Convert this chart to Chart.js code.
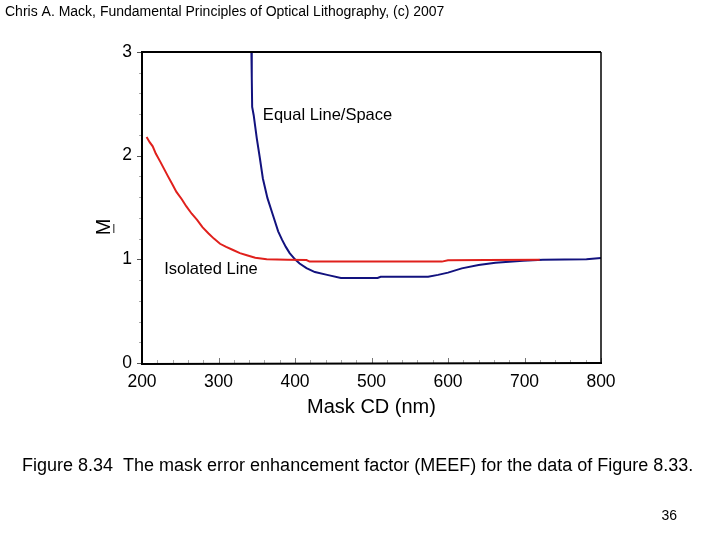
<!DOCTYPE html>
<html>
<head>
<meta charset="utf-8">
<style>
  html, body { margin: 0; padding: 0; background: #fff; }
  canvas { display: block; }
</style>
<script src="https://cdn.jsdelivr.net/npm/chart.js@4/dist/chart.umd.min.js"></script>
</head>
<body>
<canvas id="c" width="720" height="540"></canvas>
<script>
// ---- data ----
const isoX = [206, 210, 214, 218, 224, 229, 234, 240, 245, 252, 258, 265, 272, 279, 287, 294, 302, 310, 319, 328, 337, 348, 363, 390, 415, 419, 500, 592, 600, 650, 720];
const isoY = [2.18, 2.13, 2.09, 2.02, 1.94, 1.87, 1.80, 1.72, 1.65, 1.58, 1.51, 1.44, 1.38, 1.31, 1.25, 1.20, 1.15, 1.12, 1.09, 1.06, 1.04, 1.015, 1.0, 0.995, 0.993, 0.978, 0.978, 0.978, 0.99, 0.994, 0.995];

const eqX = [343, 343.5, 344, 346, 350, 354, 358, 364, 371, 378, 383, 388, 393, 400, 406, 415, 426, 442, 460, 508, 512, 574, 587, 600, 618, 640, 662, 698, 724, 781, 800];
const eqY = [3.0, 2.75, 2.47, 2.39, 2.17, 1.98, 1.78, 1.59, 1.43, 1.27, 1.19, 1.12, 1.06, 1.0, 0.96, 0.915, 0.877, 0.85, 0.82, 0.82, 0.832, 0.833, 0.85, 0.872, 0.913, 0.946, 0.968, 0.987, 0.995, 1.0, 1.012];

const seriesNames = ['Isolated Line', 'Equal Line/Space'];
const xTicks = [200, 300, 400, 500, 600, 700, 800];
const yTicks = [0, 1, 2, 3];
const xTitle = 'Mask CD (nm)';
const yTitle = 'M';
const headerText = 'Chris A. Mack, Fundamental Principles of Optical Lithography, (c) 2007';
const captionText = 'Figure 8.34  The mask error enhancement factor (MEEF) for the data of Figure 8.33.';
const pageText = '36';
// label anchor positions in data units
const eqLabelAt = [358, 2.39];
const isoLabelAt = [229, 0.90];

const FONT = '"Liberation Sans", Arial, Helvetica, sans-serif';
const toPts = (xs, ys) => xs.map((x, i) => ({ x, y: ys[i] }));

const deco = {
  id: 'deco',
  afterDatasetsDraw(chart) {
    const { ctx, chartArea: a, scales: { x, y } } = chart;
    ctx.save();
    // minor / major ticks
    ctx.lineWidth = 1;
    const xmin = xTicks[0], xmax = xTicks[xTicks.length - 1];
    for (let v = xmin; v <= xmax; v += 20) {
      const px = Math.round(x.getPixelForValue(v)) + 0.5;
      ctx.strokeStyle = v % 100 === 0 ? '#777' : '#aaa';
      ctx.beginPath();
      ctx.moveTo(px, a.bottom);
      ctx.lineTo(px, a.bottom - (v % 100 === 0 ? 5 : 3));
      ctx.stroke();
    }
    for (let i = 0; i <= 15; i++) {
      const v = i * 0.2;
      const py = Math.round(y.getPixelForValue(v)) + 0.5;
      const major = i % 5 === 0;
      ctx.strokeStyle = major ? '#555' : '#aaa';
      ctx.beginPath();
      ctx.moveTo(a.left, py);
      ctx.lineTo(a.left - (major ? 5 : 3), py);
      ctx.stroke();
    }
    // frame
    ctx.strokeStyle = '#000';
    ctx.lineWidth = 2;
    ctx.beginPath();
    ctx.moveTo(a.left, a.top);
    ctx.lineTo(a.right, a.top);
    ctx.moveTo(a.left, a.top - 1);
    ctx.lineTo(a.left, a.bottom + 1);
    ctx.lineTo(a.right + 1, a.bottom);
    ctx.stroke();
    ctx.lineWidth = 1.5;
    ctx.beginPath();
    ctx.moveTo(a.right, a.top);
    ctx.lineTo(a.right, a.bottom);
    ctx.stroke();

    // in-plot labels
    ctx.fillStyle = '#000';
    ctx.font = '16.5px ' + FONT;
    ctx.textAlign = 'left';
    ctx.textBaseline = 'middle';
    ctx.fillText(seriesNames[1], x.getPixelForValue(eqLabelAt[0]), y.getPixelForValue(eqLabelAt[1]));
    ctx.fillText(seriesNames[0], x.getPixelForValue(isoLabelAt[0]), y.getPixelForValue(isoLabelAt[1]));

    // y axis title (rotated, with short underline mark)
    ctx.save();
    ctx.translate(a.left - 38, 227);
    ctx.rotate(-Math.PI / 2);
    ctx.font = '20px ' + FONT;
    ctx.textAlign = 'center';
    ctx.textBaseline = 'middle';
    ctx.fillText(yTitle, 0, 0);
    ctx.fillStyle = '#666';
    ctx.fillRect(-6, 9, 9, 1.5);
    ctx.restore();
    ctx.restore();
  },
  afterDraw(chart) {
    const { ctx } = chart;
    ctx.save();
    ctx.fillStyle = '#000';
    ctx.textBaseline = 'middle';
    ctx.textAlign = 'left';
    ctx.font = '14px ' + FONT;
    ctx.fillText(headerText, 5, 12, 442);
    ctx.font = '18px ' + FONT;
    ctx.fillText(captionText, 22, 466, 675);
    ctx.font = '14px ' + FONT;
    ctx.textAlign = 'right';
    ctx.fillText(pageText, 677, 516);
    ctx.restore();
  }
};

new Chart(document.getElementById('c'), {
  type: 'line',
  data: {
    datasets: [
      { label: seriesNames[0], data: toPts(isoX, isoY), borderColor: '#e0201c', borderWidth: 2, pointRadius: 0, tension: 0, fill: false },
      { label: seriesNames[1], data: toPts(eqX, eqY), borderColor: '#12127e', borderWidth: 2, pointRadius: 0, tension: 0, fill: false }
    ]
  },
  options: {
    responsive: false,
    animation: false,
    events: [],
    layout: { padding: { left: 82, right: 119, top: 52, bottom: 117 } },
    plugins: { legend: { display: false }, tooltip: { enabled: false } },
    scales: {
      x: {
        type: 'linear',
        min: 200, max: 800,
        afterBuildTicks: (s) => { s.ticks = xTicks.map(v => ({ value: v })); },
        afterFit: (s) => { s.height = 60; s.paddingLeft = 0; s.paddingRight = 0; s.paddingTop = 0; s.paddingBottom = 0; },
        grid: { display: false, drawTicks: false },
        border: { display: false },
        ticks: { color: '#000', font: { family: FONT, size: 17.5 }, padding: 9, maxRotation: 0, autoSkip: false },
        title: { display: true, text: xTitle, color: '#000', font: { family: FONT, size: 20 }, padding: { top: 0, bottom: 4 } }
      },
      y: {
        type: 'linear',
        min: 0, max: 3,
        afterBuildTicks: (s) => { s.ticks = yTicks.map(v => ({ value: v })); },
        afterFit: (s) => { s.width = 60; s.paddingLeft = 0; s.paddingRight = 0; s.paddingTop = 0; s.paddingBottom = 0; },
        grid: { display: false, drawTicks: false },
        border: { display: false },
        ticks: { color: '#000', font: { family: FONT, size: 17.5 }, padding: 10, autoSkip: false }
      }
    }
  },
  plugins: [deco]
});
</script>
</body>
</html>
